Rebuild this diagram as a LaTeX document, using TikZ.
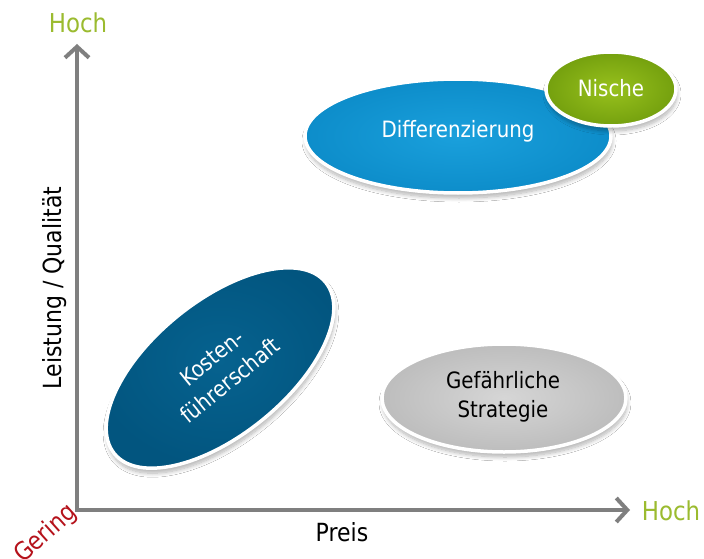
\documentclass[tikz,border=0pt]{standalone}
\usepackage{fontspec}
\setmainfont{DejaVu Sans}[FakeStretch=0.88]
\usetikzlibrary{arrows.meta,shapes.geometric,shadows.blur}

\definecolor{axisgray}{HTML}{7F7F7F}
\definecolor{highgreen}{HTML}{9BBB2F}
\definecolor{lowred}{HTML}{B5121B}
\definecolor{diffblueA}{HTML}{1AA0DC}
\definecolor{diffblueB}{HTML}{0D8DCA}
\definecolor{nicheA}{HTML}{98C11D}
\definecolor{nicheB}{HTML}{74A00E}
\definecolor{costA}{HTML}{06628F}
\definecolor{costB}{HTML}{02557F}
\definecolor{riskA}{HTML}{D6D6D6}
\definecolor{riskB}{HTML}{BDBDBD}

\begin{document}
\begin{tikzpicture}[x=1pt,y=-1pt,
  axisline/.style={draw=axisgray, line width=4pt,
    {Straight Barb[length=11pt,width=24pt]}-{Straight Barb[length=11pt,width=24pt]}},
  blob/.style={ellipse, draw=white, line width=3.5pt, inner sep=0pt,
    blur shadow={shadow xshift=1pt, shadow yshift=-5pt,
      shadow blur radius=4pt, shadow blur steps=10, shadow opacity=30}},
  lbl/.style={font=\fontsize{#1}{#1}\selectfont, inner sep=0pt},
  lbl/.default=25,
  inlbl/.style={font=\fontsize{22.5}{29}\selectfont, align=center, inner sep=0pt}
]
  % canvas
  \useasboundingbox (0,0) rectangle (704,559);
  \fill[white] (0,0) rectangle (704,559);

  % axes
  \coordinate (origin) at (77,510);
  \coordinate (ytip) at (77,44);
  \coordinate (xtip) at (630,510);
  \draw[axisline] (ytip) -- (origin) -- (xtip);

  % axis labels
  \node[lbl=26, text=highgreen] (yhigh) at (78,23) {Hoch};
  \node[lbl=26, text=highgreen] (xhigh) at (671,511) {Hoch};
  \node[lbl=25] (price) at (342,532) {Preis};
  \node[lbl=25, rotate=90] (quality) at (55,288) {Leistung / Qualität};
  \node[lbl=25, rotate=42, text=lowred] (low) at (46,534) {Gering};

  % strategy fields
  \node[blob, minimum width=306, minimum height=114,
        inner color=diffblueA, outer color=diffblueB] (diff) at (458,136) {};
  \node[inlbl, text=white] (difftext) at (458,131) {Differenzierung};

  \node[blob, minimum width=130, minimum height=74,
        inner color=nicheA, outer color=nicheB] (niche) at (611,89) {};
  \node[inlbl, text=white] (nichetext) at (611,88) {Nische};

  \node[blob, minimum width=244, minimum height=108,
        inner color=riskA, outer color=riskB] (risk) at (504,398) {};
  \node[inlbl, text=black] (risktext) at (503,397) {Gefährliche\\Strategie};

  \node[blob, rotate=39, minimum width=272, minimum height=134,
        inner color=costA, outer color=costB] (cost) at (220,368) {};
  \node[inlbl, text=white, rotate=39] (costtext) at (221,369) {Kosten-\\führerschaft};
\end{tikzpicture}
\end{document}
